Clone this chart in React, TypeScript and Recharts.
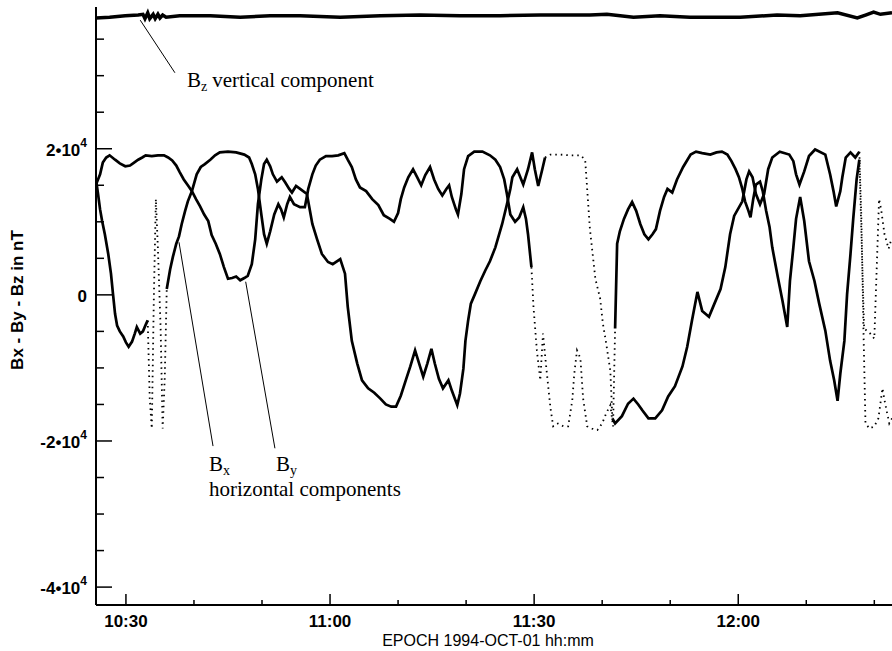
import { LineChart, Line, XAxis, YAxis, ReferenceLine } from 'recharts';

// time = minutes after 10:00, value = nT
const bz: [number, number][] = [
  [25.6, 37900], [27.6, 38000], [29.9, 38200], [31.8, 38300], [32.5, 38400], [32.8, 37800],
  [33.2, 38600], [33.5, 37800], [34.0, 38400], [34.3, 37800], [34.7, 38400], [35.0, 37900],
  [35.4, 38300], [35.9, 38000], [37.9, 38200], [42.4, 38200], [46.8, 38000], [51.2, 38200],
  [55.6, 38200], [61.5, 38000], [67.4, 38200], [73.2, 38300], [79.1, 38200], [85.0, 38200],
  [90.9, 38300], [98.2, 38300], [100.7, 38400], [104.6, 38000], [108.5, 38200], [112.9, 38000],
  [120.3, 38000], [125.7, 38300], [129.1, 38200], [134.6, 38600], [137.5, 37900], [138.7, 38300],
  [139.9, 38700], [140.9, 38400], [142.6, 38600],
];

const bx: [number, number][] = [
  [25.6, 15800], [25.9, 13800], [26.2, 11700], [26.5, 10100], [26.9, 8300], [27.4, 5600],
  [27.8, 2900], [28.1, 100], [28.4, -2600], [28.7, -4200], [29.1, -5000], [29.6, -5700],
  [30.0, -6500], [30.4, -7100], [30.9, -6400], [31.3, -5300], [31.6, -4400], [32.1, -5300],
  [32.5, -5000], [32.9, -4100], [33.2, -3500], [33.5, -14200], [33.8, -18300], [34.1, -500],
  [34.4, 13100], [34.7, 6300], [35.1, -4600], [35.4, -18300], [35.7, -11500], [36.0, 800],
  [36.5, 3500], [36.9, 5200], [37.4, 7000], [37.8, 8000], [38.2, 9700], [38.7, 11500],
  [39.1, 12800], [39.7, 14200], [40.4, 16500], [41.0, 17500], [41.6, 17900], [42.4, 18500],
  [43.1, 19100], [43.8, 19500], [45.0, 19600], [46.2, 19500], [47.4, 19200], [48.1, 18800],
  [48.5, 17900], [49.0, 16500], [49.4, 14500], [49.9, 11000], [50.3, 8300], [50.7, 7000],
  [51.2, 8700], [51.8, 11000], [52.4, 12400], [52.8, 11700], [53.2, 10600], [53.7, 12400],
  [54.1, 13400], [54.7, 12400], [55.6, 12000], [56.3, 12000], [56.8, 14500], [57.4, 16500],
  [57.9, 17700], [58.5, 18500], [59.4, 19000], [60.3, 19000], [61.2, 19100], [62.1, 19400],
  [62.6, 18500], [63.2, 17500], [63.8, 15800], [64.4, 14700], [65.3, 14200], [66.2, 13100],
  [67.1, 12300], [67.9, 10900], [68.8, 10400], [69.4, 10000], [70.0, 11200], [70.4, 13100],
  [70.9, 14700], [71.5, 16100], [72.2, 17200], [72.8, 16100], [73.4, 15000], [74.0, 16400],
  [74.7, 17500], [75.3, 15800], [75.9, 14500], [76.5, 13600], [77.1, 14500], [77.5, 15000],
  [77.9, 13400], [78.5, 11700], [78.8, 11000], [79.3, 13800], [79.7, 17200], [80.3, 19000],
  [81.2, 19600], [82.4, 19600], [83.5, 19100], [84.3, 18500], [85.0, 17500], [85.6, 15800],
  [86.0, 13800], [86.5, 11000], [87.2, 10000], [87.8, 10600], [88.4, 12000], [88.8, 10400],
  [89.1, 8300], [89.6, 3800], [89.9, -1600], [90.4, -7600], [90.9, -11700], [91.3, -5300],
  [91.8, -10100], [92.4, -15500], [92.8, -18000], [93.5, -17600], [94.3, -18000], [95.0, -18000],
  [95.6, -14500], [95.9, -10800], [96.3, -7600], [96.8, -8700], [97.2, -14200], [97.8, -18000],
  [98.5, -18300], [99.3, -18500], [100.0, -17600], [100.6, -16200], [101.2, -15100], [101.6, -18000],
  [101.9, -4600], [102.2, 7000], [102.6, 8700], [103.2, 10400], [103.8, 11700], [104.4, 12700],
  [105.0, 11500], [105.6, 9700], [106.2, 8300], [106.8, 7600], [107.4, 8300], [107.9, 9000],
  [108.5, 11500], [109.1, 13400], [109.6, 14500], [110.3, 14000], [111.0, 15800], [111.9, 17500],
  [113.0, 19200], [113.8, 19600], [114.7, 19400], [115.9, 19200], [116.8, 19500], [117.6, 19600],
  [118.4, 19200], [119.0, 18300], [119.6, 17200], [120.1, 16100], [120.6, 14500], [121.0, 12800],
  [121.5, 11500], [121.8, 10600], [122.2, 13100], [122.6, 15100], [123.2, 15500], [123.6, 14200],
  [124.1, 11500], [124.6, 9300], [125.0, 6500], [125.8, 2500], [126.5, -800], [127.2, -4400],
  [127.6, 1900], [128.1, 6500], [128.5, 10400], [129.1, 13400], [129.7, 10100], [130.4, 4600],
  [131.2, 1900], [131.9, -1200], [132.8, -4900], [133.5, -9000], [134.1, -11700], [134.6, -14500],
  [135.0, -10800], [135.6, -6300], [136.0, 100], [136.5, 5600], [136.9, 10400], [137.4, 15800],
  [137.8, 18500], [138.5, -4600], [139.4, -5300], [140.0, -6000], [140.4, 4900], [140.7, 13100],
  [141.0, 11700], [141.5, 8300], [142.1, 6300], [142.5, 7600],
];

const by: [number, number][] = [
  [25.6, 15100], [26.2, 16500], [26.6, 18100], [27.1, 18800], [27.6, 19100], [28.4, 18500],
  [29.1, 18000], [29.9, 17600], [30.6, 17700], [31.2, 18100], [31.8, 18500], [32.4, 18800],
  [32.9, 19100], [33.8, 19000], [34.7, 19100], [35.6, 19100], [36.2, 18800], [36.8, 18400],
  [37.4, 17700], [37.9, 16800], [38.5, 15800], [39.1, 15000], [39.7, 14200], [40.3, 13100],
  [40.9, 12100], [41.5, 11000], [42.1, 10100], [42.6, 8200], [43.2, 7000], [43.8, 5600],
  [44.4, 3800], [45.0, 2200], [45.6, 2300], [46.2, 2500], [46.8, 2000], [47.4, 2300],
  [47.9, 2600], [48.5, 4200], [49.0, 7600], [49.4, 12400], [49.9, 15800], [50.3, 17900],
  [50.7, 18500], [51.2, 17600], [51.6, 16500], [52.2, 15500], [52.9, 16100], [53.4, 15400],
  [54.0, 14500], [54.4, 14000], [55.0, 14900], [55.6, 14500], [56.6, 13800], [57.4, 9700],
  [58.1, 7600], [58.8, 5600], [59.7, 4500], [60.4, 4200], [61.5, 4900], [62.2, 2900],
  [62.6, -1600], [63.2, -6300], [64.0, -9400], [64.7, -11700], [65.6, -12800], [66.5, -13400],
  [67.4, -14200], [68.2, -15000], [69.0, -15300], [69.7, -15300], [70.4, -13800], [71.2, -11500],
  [71.8, -9800], [72.5, -7600], [73.1, -9400], [73.7, -11200], [74.3, -9400], [74.9, -7400],
  [75.4, -9400], [76.0, -11500], [76.6, -12800], [77.4, -11700], [77.9, -13100], [78.7, -15100],
  [79.1, -13500], [79.6, -10100], [79.9, -6300], [80.3, -3500], [80.7, -1200], [81.3, 100],
  [82.1, 1900], [82.8, 3300], [83.5, 4600], [84.3, 6500], [85.3, 9700], [86.0, 12400],
  [86.5, 14500], [86.8, 16100], [87.5, 17200], [88.4, 15100], [89.1, 17200], [89.7, 19500],
  [90.1, 17200], [90.6, 14900], [91.2, 17200], [91.6, 18800], [92.4, 19200], [93.8, 19200],
  [95.3, 19100], [96.8, 19100], [97.5, 18500], [98.2, 9000], [99.0, 2200], [99.7, -500],
  [100.1, -3900], [100.6, -6700], [101.2, -10400], [101.5, -16900], [101.9, -17600], [102.9, -16600],
  [103.8, -14900], [104.6, -14200], [105.3, -15000], [105.9, -15800], [106.8, -16900], [107.8, -16900],
  [108.8, -15800], [109.7, -13900], [110.7, -12500], [111.8, -9800], [112.5, -7100], [113.2, -3500],
  [114.0, 400], [114.7, -2200], [115.7, -3000], [116.5, -1200], [117.4, 800], [118.1, 3800],
  [118.8, 8300], [119.4, 10800], [120.6, 12800], [121.2, 15800], [121.6, 16900], [122.1, 16100],
  [122.6, 13800], [123.2, 12400], [123.8, 13800], [124.4, 17200], [125.0, 18800], [126.1, 19600],
  [127.5, 19200], [128.1, 18300], [128.5, 16500], [129.0, 15100], [129.7, 16900], [130.4, 19000],
  [131.3, 19900], [132.8, 19200], [133.5, 16500], [134.0, 14200], [134.4, 12100], [135.0, 14200],
  [135.3, 16100], [135.8, 18800], [136.5, 19500], [137.2, 18800], [137.8, 19600], [138.1, 10400],
  [138.4, -4600], [138.7, -17600], [139.3, -18300], [140.0, -18000], [140.6, -16900], [141.2, -12800],
  [141.6, -14900], [142.2, -17600], [142.6, -16900],
];

// stretches where the samples are sparse and the trace shows as dots
const bxSparse: [number, number][] = [[33.2, 36.0], [89.6, 101.9], [137.8, 142.6]];
const bySparse: [number, number][] = [[91.6, 101.5], [137.8, 142.6]];

const xTicks = [30, 40, 50, 60, 70, 80, 90, 100, 110, 120, 130, 140];
const xTickLabels: Record<number, string> = { 30: '10:30', 60: '11:00', 90: '11:30', 120: '12:00' };
const yTicks = [
  -40000, -35000, -30000, -25000, -20000, -15000, -10000, -5000,
  0, 5000, 10000, 15000, 20000, 25000, 30000, 35000,
];
const yTickLabels: Record<number, [string, string]> = {
  20000: ['2•10', '4'],
  0: ['0', ''],
  [-20000]: ['-2•10', '4'],
  [-40000]: ['-4•10', '4'],
};

// leader lines for the annotations
const bzPointer = [{ x: 32.1, y: 37600 }, { x: 37.2, y: 30400 }];
const bxPointer = [{ x: 37.8, y: 7200 }, { x: 42.8, y: -20700 }];
const byPointer = [{ x: 47.6, y: 1800 }, { x: 51.9, y: -21000 }];

type Row = { t: number; v: number };
type Segment = { rows: Row[]; sparse: boolean };

// split a trace into solid and dotted pieces that share their end points
function splitTrace(pts: [number, number][], sparse: [number, number][]): Segment[] {
  const out: Segment[] = [];
  let cur: Segment | null = null;
  for (let i = 0; i < pts.length - 1; i++) {
    const mid = (pts[i][0] + pts[i + 1][0]) / 2;
    const s = sparse.some(([a, b]) => mid > a && mid < b);
    if (!cur || cur.sparse !== s) {
      cur = { rows: [{ t: pts[i][0], v: pts[i][1] }], sparse: s };
      out.push(cur);
    }
    cur.rows.push({ t: pts[i + 1][0], v: pts[i + 1][1] });
  }
  return out;
}

const W = 892;
const H = 651;
const LEFT = 96;
const BOTTOM = 605;
const SANS = '"Liberation Sans", Arial, Helvetica, sans-serif';
const SERIF = '"Liberation Serif", "Times New Roman", serif';

function XTick(props: any) {
  const { x, payload } = props;
  const label = xTickLabels[payload.value];
  return (
    <g>
      <line x1={x} x2={x} y1={BOTTOM} y2={BOTTOM - (label ? 11 : 5)} stroke="#000" strokeWidth={1.5} />
      {label && (
        <text x={x} y={627} textAnchor="middle" fontFamily={SANS} fontWeight="bold" fontSize={17} fill="#000">
          {label}
        </text>
      )}
    </g>
  );
}

function YTick(props: any) {
  const { y, payload } = props;
  const label = yTickLabels[payload.value];
  return (
    <g>
      <line x1={LEFT} x2={LEFT + (label ? 16 : 8)} y1={y} y2={y} stroke="#000" strokeWidth={1.5} />
      {label && (
        <text x={87} y={y + 7} textAnchor="end" fontFamily={SANS} fontWeight="bold" fontSize={17} fill="#000">
          {label[0]}
          {label[1] && (
            <tspan dy={-9} fontSize={12}>
              {label[1]}
            </tspan>
          )}
        </text>
      )}
    </g>
  );
}

export default function App() {
  const traces = [
    ...splitTrace(bx, bxSparse).map((s, i) => ({ ...s, key: `bx${i}` })),
    ...splitTrace(by, bySparse).map((s, i) => ({ ...s, key: `by${i}` })),
  ];
  return (
    <div style={{ position: 'absolute', left: 0, top: 0, width: W, height: H, background: '#fff' }}>
      <LineChart width={W} height={H} margin={{ top: 7, right: 0, bottom: 0, left: 0 }}>
        <XAxis
          type="number"
          dataKey="t"
          domain={[25.6, 142.6]}
          ticks={xTicks}
          interval={0}
          allowDataOverflow
          height={H - BOTTOM}
          tickLine={false}
          axisLine={{ stroke: '#000', strokeWidth: 2 }}
          tick={(p: any) => <XTick {...p} />}
        />
        <YAxis
          type="number"
          dataKey="v"
          domain={[-42450, 39400]}
          ticks={yTicks}
          interval={0}
          allowDataOverflow
          width={LEFT}
          tickLine={false}
          axisLine={{ stroke: '#000', strokeWidth: 2 }}
          tick={(p: any) => <YTick {...p} />}
        />
        <Line
          data={bz.map(([t, v]) => ({ t, v }))}
          dataKey="v"
          type="linear"
          stroke="#000"
          strokeWidth={3.5}
          dot={false}
          isAnimationActive={false}
        />
        {traces.map((s) => (
          <Line
            key={s.key}
            data={s.rows}
            dataKey="v"
            type="linear"
            stroke="#000"
            strokeWidth={s.sparse ? 1.8 : 2.7}
            strokeDasharray={s.sparse ? '1.5 4' : undefined}
            dot={false}
            isAnimationActive={false}
          />
        ))}
        <ReferenceLine segment={bzPointer} stroke="#000" strokeWidth={1} ifOverflow="visible" />
        <ReferenceLine segment={bxPointer} stroke="#000" strokeWidth={1} ifOverflow="visible" />
        <ReferenceLine segment={byPointer} stroke="#000" strokeWidth={1} ifOverflow="visible" />
      </LineChart>
      <svg width={W} height={H} style={{ position: 'absolute', left: 0, top: 0, pointerEvents: 'none' }}>
        <text
          x={17}
          y={300}
          transform="rotate(-90 17 300)"
          textAnchor="middle"
          dominantBaseline="central"
          fontFamily={SANS}
          fontWeight="bold"
          fontSize={17}
        >
          Bx - By - Bz in nT
        </text>
        <text x={488} y={646} textAnchor="middle" fontFamily={SANS} fontSize={16}>
          EPOCH 1994-OCT-01 hh:mm
        </text>
        <text x={187} y={87} fontFamily={SERIF} fontSize={21}>
          B<tspan fontSize={14} dy={4}>z</tspan>
          <tspan dy={-4} dx={5}>vertical component</tspan>
        </text>
        <text x={209} y={471} fontFamily={SERIF} fontSize={21}>
          B<tspan fontSize={14} dy={4}>x</tspan>
        </text>
        <text x={276} y={471} fontFamily={SERIF} fontSize={21}>
          B<tspan fontSize={14} dy={4}>y</tspan>
        </text>
        <text x={209} y={496} fontFamily={SERIF} fontSize={21}>
          horizontal components
        </text>
      </svg>
    </div>
  );
}
